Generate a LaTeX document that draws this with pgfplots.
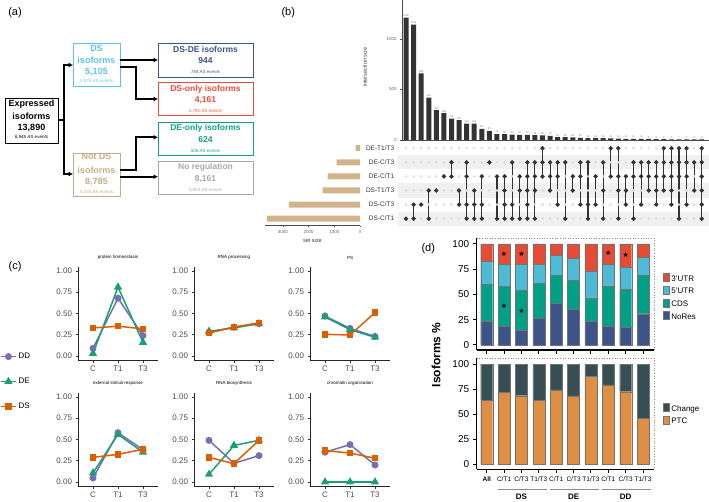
\documentclass[border=0pt]{standalone}
\usepackage{pgfplots}
\pgfplotsset{compat=1.18}
\usepackage{pgfplotstable}
\usepackage{fontspec}
\setmainfont{Liberation Sans}
\newfontfamily\dejavu{DejaVu Sans}
\usetikzlibrary{arrows.meta}

\definecolor{cDD}{HTML}{7570B3}
\definecolor{cDE}{HTML}{1B9E77}
\definecolor{cDS}{HTML}{D95F02}
\definecolor{utrthree}{HTML}{E64B35}
\definecolor{utrfive}{HTML}{4DBBD5}
\definecolor{cds}{HTML}{00A087}
\definecolor{nores}{HTML}{3C5488}
\definecolor{change}{HTML}{374E55}
\definecolor{ptc}{HTML}{DF8F44}
\definecolor{settan}{HTML}{D2B48C}
\definecolor{boxblue}{HTML}{5BC4E6}
\definecolor{boxtan}{HTML}{C6AB88}
\definecolor{boxnavy}{HTML}{3C5488}
\definecolor{boxred}{HTML}{EE4B35}
\definecolor{boxteal}{HTML}{0FA085}
\definecolor{boxgrey}{HTML}{A8A8A8}

\newcommand{\fs}[1]{\fontsize{#1}{#1}\selectfont}

\pgfplotsset{every axis/.append style={scale only axis,
  /pgf/number format/assume math mode=true, /pgf/number format/1000 sep={}}}

\pgfplotsset{
  cpanel/.style={
    width=80pt, height=93.5pt,
    xmin=0.4, xmax=3.6, ymin=-0.05, ymax=1.05,
    axis x line*=bottom, axis y line*=left,
    axis line style={black!85, line width=0.6pt},
    xtick={1,2,3}, xticklabels={C,T1,T3},
    ytick={0,0.25,0.5,0.75,1},
    yticklabel style={/pgf/number format/fixed, /pgf/number format/fixed zerofill, /pgf/number format/precision=2},
    tick label style={font=\fs{8}, text=black!70},
    tick align=outside, major tick length=2.5pt,
    tick style={black!80, line width=0.5pt},
    title style={font=\fs{4.5}, at={(0.5,1)}, anchor=south, inner sep=1pt},
    clip=false,
    legend image code/.code={\draw[mark repeat=2, mark phase=2, #1] plot coordinates {(0pt,0pt) (7.5pt,0pt) (15pt,0pt)};},
  },
  sDD/.style={cDD, line width=1.5pt, mark=*, mark size=2.7pt, mark options={solid}},
  sDE/.style={cDE, line width=1.5pt, mark=triangle*, mark size=3.3pt, mark options={solid}},
  sDS/.style={cDS, line width=1.5pt, mark=square*, mark size=2.5pt, mark options={solid}},
  dpanel/.style={
    width=177.3pt, xmin=0.424, xmax=10.63, ymin=-5, ymax=106,
    axis x line*=bottom, axis y line*=left,
    axis line style={line width=1.2pt, black},
    xtick={1,...,10}, ytick={0,25,50,75,100},
    tick align=outside, major tick length=4pt, tick style={line width=1pt, black},
    y tick label style={font=\fs{10}},
    clip=false,
    legend image code/.code={\fill[#1] (0pt,-4.8pt) rectangle (10pt,4.8pt);},
  },
}

\pgfplotstableread{
x y
1 1208
2 1139
3 658
4 419
5 294
6 265
7 211
8 197
9 162
10 162
11 111
12 91
13 59
14 58
15 54
16 51
17 51
18 48
19 45
20 40
21 28
22 28
23 25
24 20
25 19
26 19
27 18
28 15
29 14
30 11
31 11
32 10
33 8
34 8
35 8
36 7
37 7
38 6
39 5
40 5
}\inter

\pgfplotstableread{
x nores cds five three
1 23.7 36.5 23.0 16.8
2 18.4 39.8 21.8 20.0
3 14.5 39.5 26.0 20.0
4 26.3 34.6 19.1 20.0
5 41.1 27.9 19.5 11.5
6 35.5 28.6 21.4 14.5
7 23.7 22.3 27.4 26.6
8 18.4 39.8 21.8 20.0
9 17.4 37.6 22.3 22.7
10 30.9 38.1 17.5 13.5
}\restab

\pgfplotstableread{
x ptc change
1 64.1 35.9
2 71.8 28.2
3 68.4 31.6
4 64.1 35.9
5 74.1 25.9
6 68.1 31.9
7 87.4 12.6
8 79.1 20.9
9 72.4 27.6
10 45.8 54.2
}\ptctab

\begin{document}
\begin{tikzpicture}
\useasboundingbox (0,0) rectangle (709pt,502pt);

% ---------------- panel labels
\node[font=\fs{11}] at (15pt,489.3pt) {(a)};
\node[font=\fs{11}] at (288.3pt,489.3pt) {(b)};
\node[font=\fs{11}] at (15pt,235.3pt) {(c)};
\node[font=\fs{11}] at (428.3pt,253.7pt) {(d)};

% ---------------- panel (a) flowchart
\draw[black, line width=0.9pt] (5pt,404pt) rectangle (58pt,359pt);
\draw[boxblue, line width=0.9pt] (73pt,459pt) rectangle (120pt,416pt);
\draw[boxtan, line width=0.9pt] (73pt,349pt) rectangle (120pt,306pt);
\draw[boxnavy, line width=0.9pt] (158pt,459pt) rectangle (253pt,425pt);
\draw[boxred, line width=0.9pt] (158pt,420pt) rectangle (253pt,387pt);
\draw[boxteal, line width=0.9pt] (158pt,380pt) rectangle (253pt,347pt);
\draw[boxgrey, line width=0.9pt] (158pt,341pt) rectangle (253pt,308pt);

\begin{scope}[line width=2.2pt, arrows={-Latex[length=4.5pt,width=5pt]}]
\draw[-] (58pt,382pt) -- (64.3pt,382pt);
\draw[-] (64.3pt,437pt) -- (64.3pt,328pt);
\draw (63.2pt,437pt) -- (73pt,437pt);
\draw (63.2pt,328pt) -- (73pt,328pt);
\draw (120pt,442pt) -- (158pt,442pt);
\draw (120pt,435.3pt) -- (136pt,435.3pt) -- (136pt,403pt) -- (158pt,403pt);
\draw (120pt,332pt) -- (136pt,332pt) -- (136pt,364.7pt) -- (158pt,364.7pt);
\draw (120pt,325.3pt) -- (158pt,325.3pt);
\end{scope}

\begin{scope}[every node/.style={inner sep=0pt}]
\node[font=\fs{9}\bfseries] at (31.5pt,397.7pt) {Expressed};
\node[font=\fs{9}\bfseries] at (31.5pt,386pt) {isoforms};
\node[font=\fs{9}\bfseries] at (31.5pt,374.3pt) {13,890};
\node[font=\fs{4.5}\itshape] at (31.5pt,364.7pt) {6,945 AS events};

\node[font=\fs{9}\bfseries, text=boxblue] at (96.5pt,453.7pt) {DS};
\node[font=\fs{9}\bfseries, text=boxblue] at (96.5pt,441.3pt) {isoforms};
\node[font=\fs{9}\bfseries, text=boxblue] at (96.5pt,430.3pt) {5,105};
\node[font=\fs{4.5}\itshape, text=boxblue] at (96.5pt,420.3pt) {2,575 AS events};

\node[font=\fs{9}\bfseries, text=boxtan] at (96.5pt,345.3pt) {Not DS};
\node[font=\fs{9}\bfseries, text=boxtan] at (96.5pt,332pt) {isoforms};
\node[font=\fs{9}\bfseries, text=boxtan] at (96.5pt,320.3pt) {8,785};
\node[font=\fs{4.5}\itshape, text=boxtan] at (96.5pt,309.7pt) {4,370 AS events};

\node[font=\fs{8.5}\bfseries, text=boxnavy] at (205.5pt,452.7pt) {DS-DE isoforms};
\node[font=\fs{8.5}\bfseries, text=boxnavy] at (205.5pt,441pt) {944};
\node[font=\fs{4.5}\itshape, text=boxnavy] at (205.5pt,430.3pt) {784 AS events};

\node[font=\fs{8.5}\bfseries, text=boxred] at (205.5pt,413pt) {DS-only isoforms};
\node[font=\fs{8.5}\bfseries, text=boxred] at (205.5pt,402pt) {4,161};
\node[font=\fs{4.5}\itshape, text=boxred] at (205.5pt,391pt) {1,791 AS events};

\node[font=\fs{8.5}\bfseries, text=boxteal] at (205.5pt,373.7pt) {DE-only isoforms};
\node[font=\fs{8.5}\bfseries, text=boxteal] at (205.5pt,362pt) {624};
\node[font=\fs{4.5}\itshape, text=boxteal] at (205.5pt,351.3pt) {506 AS events};

\node[font=\fs{8.5}\bfseries, text=boxgrey] at (205.5pt,334.7pt) {No regulation};
\node[font=\fs{8.5}\bfseries, text=boxgrey] at (205.5pt,323pt) {8,161};
\node[font=\fs{4.5}\itshape, text=boxgrey] at (205.5pt,312pt) {3,664 AS events};
\end{scope}

% ---------------- panel (b) intersection bars
\begin{axis}[at={(401.7pt,362pt)}, anchor=south west, width=307.3pt, height=140pt,
  xmin=0.433, xmax=40.96, ymin=0, ymax=1383,
  axis x line*=bottom, axis y line*=left,
  axis line style={black!70, line width=0.4pt},
  xtick=\empty, ytick={0,500,1000}, scaled y ticks=false,
  y tick label style={font=\fs{4.5}, text=black!60},
  tick align=outside, major tick length=1.5pt, tick style={black!70},
  ylabel={intersection size},
  ylabel style={font=\fs{5.5}, text=black!75, at={(axis description cs:-0.12,0.52)}, anchor=center},
  clip=false]
\addplot[ybar, bar width=5pt, fill=black!80, draw=none,
  nodes near coords, nodes near coords style={font=\fs{2.6}, text=black!55, inner sep=0.8pt}]
  table[x=x,y=y]{\inter};
\end{axis}

% ---------------- panel (b) matrix
\begin{axis}[at={(401.7pt,276.3pt)}, anchor=south west, width=307.3pt, height=84.5pt,
  xmin=0.433, xmax=40.96, ymin=0.5, ymax=6.5,
  axis line style={draw=none}, xtick=\empty, ytick={1,...,6},
  yticklabels={DS-C/T1,DS-C/T3,DS-T1/T3,DE-C/T1,DE-C/T3,DE-T1/T3},
  major tick length=0pt, tick style={draw=none},
  y tick label style={font=\fs{6.5}, text=black!80, xshift=-4pt},
  clip=false, unbounded coords=jump]
\fill[black!6] (axis cs:-0.05,0.5) rectangle (axis cs:40.96,1.5);
\fill[black!6] (axis cs:-0.05,2.5) rectangle (axis cs:40.96,3.5);
\fill[black!6] (axis cs:-0.05,4.5) rectangle (axis cs:40.96,5.5);
\pgfplotsinvokeforeach{1,...,6}{
  \addplot[only marks, mark=*, mark size=1.05pt, color=black!14] table[x=x, y expr=#1]{\inter};
}
\addplot[black!80, line width=1.1pt, mark=*, mark size=1.6pt] coordinates {
(1,1) (nan,nan)
(2,1) (2,2) (nan,nan)
(3,2) (nan,nan)
(4,1) (4,3) (nan,nan)
(5,3) (nan,nan)
(6,4) (nan,nan)
(7,4) (7,5) (nan,nan)
(8,2) (8,3) (nan,nan)
(9,1) (9,2) (9,4) (9,5) (nan,nan)
(10,1) (10,2) (10,3) (nan,nan)
(11,1) (11,2) (11,4) (nan,nan)
(12,5) (nan,nan)
(13,1) (13,4) (nan,nan)
(14,1) (14,2) (14,3) (14,4) (nan,nan)
(15,1) (15,2) (15,5) (nan,nan)
(16,1) (16,3) (16,4) (nan,nan)
(17,1) (17,2) (17,3) (17,4) (17,5) (nan,nan)
(18,1) (18,3) (18,4) (18,5) (nan,nan)
(19,4) (19,5) (19,6) (nan,nan)
(20,3) (20,4) (20,5) (nan,nan)
(21,2) (21,4) (21,5) (nan,nan)
(22,1) (22,5) (nan,nan)
(23,3) (23,4) (nan,nan)
(24,2) (24,4) (24,5) (nan,nan)
(25,1) (25,2) (25,5) (nan,nan)
(26,2) (26,4) (nan,nan)
(27,1) (27,3) (27,5) (nan,nan)
(28,4) (28,6) (nan,nan)
(29,1) (29,3) (29,4) (29,6) (nan,nan)
(30,2) (30,3) (30,4) (nan,nan)
(31,1) (31,4) (31,5) (nan,nan)
(32,2) (32,4) (32,5) (nan,nan)
(33,3) (33,4) (33,5) (nan,nan)
(34,2) (34,3) (34,4) (34,5) (nan,nan)
(35,3) (35,4) (35,5) (35,6) (nan,nan)
(36,2) (36,3) (36,4) (36,5) (36,6) (nan,nan)
(37,1) (37,4) (37,5) (37,6) (nan,nan)
(38,2) (38,4) (38,5) (38,6) (nan,nan)
(39,3) (39,5) (nan,nan)
(40,1) (40,2) (40,3) (40,4) (40,5) (40,6)
};
\end{axis}

% ---------------- panel (b) set size
\begin{axis}[at={(360pt,276.3pt)}, anchor=south east, width=95.1pt, height=84.5pt,
  xmin=0, xmax=3700, x dir=reverse, ymin=0.5, ymax=6.5,
  axis x line*=bottom, axis y line=none, ytick=\empty,
  axis line style={black!70, line width=0.4pt},
  xtick={0,1000,2000,3000}, scaled x ticks=false,
  x tick label style={font=\fs{4.5}, text=black!60},
  tick align=outside, major tick length=1.5pt, tick style={black!70},
  xlabel={set size}, xlabel style={font=\fs{5.5}, text=black!80, inner sep=1pt},
  clip=false]
\addplot[xbar, bar width=6pt, fill=settan, draw=none] coordinates {
(3619,1) (2763,2) (1451,3) (1257,4) (907,5) (167,6)};
\end{axis}

% ---------------- panel (c)
\begin{axis}[cpanel, at={(78pt,141.75pt)}, anchor=south west, title={protein homeostasis},
  legend style={at={(-0.975,0.1)}, anchor=north west, draw=none, fill=none,
  font=\fs{8}, row sep=14pt, legend cell align=left, inner sep=0pt}]
\addplot[sDD] coordinates {(1,0.09) (2,0.68) (3,0.24)};
\addlegendentry{DD}
\addplot[sDE] coordinates {(1,0.03) (2,0.81) (3,0.16)};
\addlegendentry{DE}
\addplot[sDS] coordinates {(1,0.33) (2,0.35) (3,0.32)};
\addlegendentry{DS}
\end{axis}
\begin{axis}[cpanel, at={(194pt,141.75pt)}, anchor=south west, title={RNA processing}]
\addplot[sDD] coordinates {(1,0.28) (2,0.34) (3,0.38)};
\addplot[sDE] coordinates {(1,0.29) (2,0.33) (3,0.38)};
\addplot[sDS] coordinates {(1,0.27) (2,0.34) (3,0.39)};
\end{axis}
\begin{axis}[cpanel, at={(310pt,141.75pt)}, anchor=south west, title={PS}]
\addplot[sDD] coordinates {(1,0.47) (2,0.325) (3,0.23)};
\addplot[sDE] coordinates {(1,0.46) (2,0.31) (3,0.22)};
\addplot[sDS] coordinates {(1,0.255) (2,0.247) (3,0.51)};
\end{axis}
\begin{axis}[cpanel, at={(78pt,15.75pt)}, anchor=south west, title={external stimuli response}]
\addplot[sDD] coordinates {(1,0.047) (2,0.58) (3,0.38)};
\addplot[sDE] coordinates {(1,0.106) (2,0.56) (3,0.35)};
\addplot[sDS] coordinates {(1,0.29) (2,0.325) (3,0.385)};
\end{axis}
\begin{axis}[cpanel, at={(194pt,15.75pt)}, anchor=south west, title={RNA biosynthesis}]
\addplot[sDD] coordinates {(1,0.49) (2,0.22) (3,0.31)};
\addplot[sDE] coordinates {(1,0.09) (2,0.43) (3,0.49)};
\addplot[sDS] coordinates {(1,0.29) (2,0.216) (3,0.49)};
\end{axis}
\begin{axis}[cpanel, at={(310pt,15.75pt)}, anchor=south west, title={chromatin organisation}]
\addplot[sDD] coordinates {(1,0.35) (2,0.44) (3,0.20)};
\addplot[sDE] coordinates {(1,0) (2,0) (3,0)};
\addplot[sDS] coordinates {(1,0.37) (2,0.34) (3,0.28)};
\end{axis}

% ---------------- panel (d) top
\begin{axis}[dpanel, at={(476.7pt,152pt)}, anchor=south west, height=112.1pt,
  ybar stacked, bar width=12pt, xticklabels={},
  reverse legend,
  legend style={at={(1.05,0.69)}, anchor=north west, draw=none, fill=none,
    font=\fs{8}, row sep=1.2pt, legend cell align=left, inner sep=0pt}]
\addplot[fill=nores, draw=black!55, line width=0.3pt] table[x=x,y=nores]{\restab};
\addlegendentry{NoRes}
\addplot[fill=cds, draw=black!55, line width=0.3pt] table[x=x,y=cds]{\restab};
\addlegendentry{CDS}
\addplot[fill=utrfive, draw=black!55, line width=0.3pt] table[x=x,y=five]{\restab};
\addlegendentry{5'UTR}
\addplot[fill=utrthree, draw=black!55, line width=0.3pt] table[x=x,y=three]{\restab};
\addlegendentry{3'UTR}
\draw[black!45, dotted, line width=0.6pt] (rel axis cs:0,1) -- (rel axis cs:1,1) -- (rel axis cs:1,0);
\end{axis}
\begin{axis}[at={(476.7pt,152pt)}, anchor=south west, width=177.3pt, height=112.1pt,
  xmin=0.424, xmax=10.63, ymin=-5, ymax=106, hide axis, clip=false]
\addplot[black, only marks, mark=text, text mark={\dejavu\fs{7}★}]
  coordinates {(2,90.5) (2,38.5) (3,89.8) (3,33.9) (8,91.1) (9,88.8)};
\end{axis}

% ---------------- panel (d) bottom
\begin{axis}[dpanel, at={(476.7pt,32.7pt)}, anchor=south west, height=111.3pt,
  ybar stacked, bar width=12pt,
  xticklabels={\textbf{All},C/T1,C/T3,T1/T3,C/T1,C/T3,T1/T3,C/T1,C/T3,T1/T3},
  x tick label style={font=\fs{6.5}},
  reverse legend,
  legend style={at={(1.05,0.6)}, anchor=north west, draw=none, fill=none,
    font=\fs{8}, row sep=1.2pt, legend cell align=left, inner sep=0pt}]
\addplot[fill=ptc, draw=black!55, line width=0.3pt] table[x=x,y=ptc]{\ptctab};
\addlegendentry{PTC}
\addplot[fill=change, draw=black!55, line width=0.3pt] table[x=x,y=change]{\ptctab};
\addlegendentry{Change}
\draw[black!45, dotted, line width=0.6pt] (rel axis cs:0,1) -- (rel axis cs:1,1) -- (rel axis cs:1,0);
\draw[black!45, line width=0.6pt] (axis cs:1.65,-24.6) -- (axis cs:4.47,-24.6);
\draw[black!45, line width=0.6pt] (axis cs:4.64,-24.6) -- (axis cs:7.47,-24.6);
\draw[black!45, line width=0.6pt] (axis cs:7.64,-24.6) -- (axis cs:10.46,-24.6);
\node[font=\fs{8}\bfseries] at (axis cs:3,-32.6) {DS};
\node[font=\fs{8}\bfseries] at (axis cs:6,-32.6) {DE};
\node[font=\fs{8}\bfseries] at (axis cs:9,-32.6) {DD};
\end{axis}

\node[font=\fs{12}\bfseries, rotate=90] at (436pt,147pt) {Isoforms \%};

\end{tikzpicture}
\end{document}
